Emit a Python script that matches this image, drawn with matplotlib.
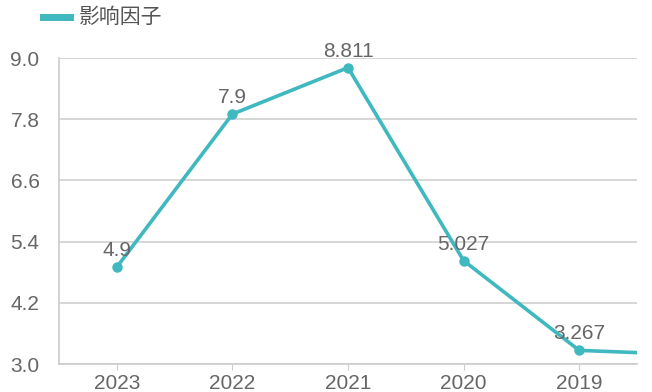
import matplotlib.pyplot as plt
import numpy as np

plt.rcParams['font.family'] = ['Noto Sans CJK SC', 'DejaVu Sans']

years = ['2023', '2022', '2021', '2020', '2019', '2018']
values = [4.9, 7.9, 8.811, 5.027, 3.267, 3.18]
labels = ['4.9', '7.9', '8.811', '5.027', '3.267', '3.18']
yticks = [3.0, 4.2, 5.4, 6.6, 7.8, 9.0]

color = '#3fb8bf'
grey = '#666666'
num_font = ['Liberation Sans', 'DejaVu Sans']

fig = plt.figure(figsize=(6.52, 3.92), dpi=100)
ax = fig.add_axes([59 / 652, 1 - 364 / 392, (637 - 59) / 652, (364 - 58) / 392])

x = np.arange(len(years))
ax.plot(x, values, color=color, lw=2.6, marker='o', ms=6.5, zorder=3, clip_on=True)
for xi, v, lab in zip(x, values, labels):
    if xi < 5:
        ax.annotate(lab, (xi, v), xytext=(0, 5), textcoords='offset points',
                    ha='center', va='bottom', fontsize=15, color=grey,
                    family=num_font)

ax.set_xlim(-0.5, 4.5)
ax.set_ylim(3.0, 9.0)
ax.set_xticks(x[:5])
ax.set_xticklabels(years[:5])
ax.set_yticks(yticks)
ax.set_yticklabels([f'{t:.1f}' for t in yticks])
ax.grid(axis='y', color='#d0d0d0', lw=1.2)
ax.set_axisbelow(True)
for s in ['top', 'right']:
    ax.spines[s].set_visible(False)
for s in ['left', 'bottom']:
    ax.spines[s].set_color('#cccccc')
    ax.spines[s].set_linewidth(1.2)
ax.tick_params(axis='x', length=4, color='#cccccc', labelsize=15, labelcolor=grey, pad=3)
ax.tick_params(axis='y', length=0, labelsize=15, labelcolor=grey, pad=14)
for t in ax.get_xticklabels() + ax.get_yticklabels():
    t.set_family(num_font)

# legend
fig.lines.append(plt.Line2D([43 / 652, 70 / 652], [1 - 17 / 392] * 2, color=color, lw=5,
                            transform=fig.transFigure))
fig.text(79 / 652, 1 - 17 / 392, '影响因子', fontsize=15, color='#555555', va='center')

fig.savefig('out.png', dpi=100)
